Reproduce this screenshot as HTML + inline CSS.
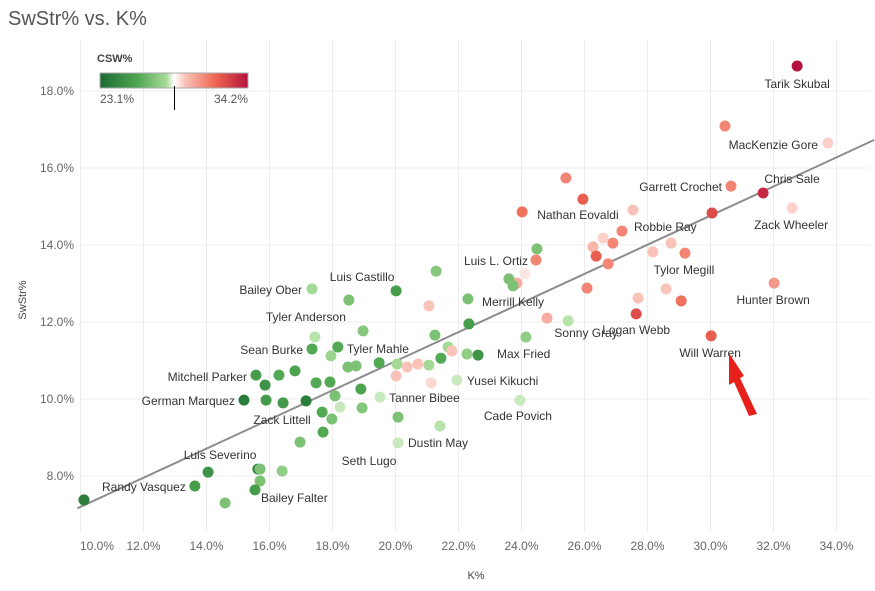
<!DOCTYPE html>
<html><head><meta charset="utf-8"><style>
body{margin:0;background:#fff;font-family:"Liberation Sans",sans-serif;}
svg{display:block}
</style></head><body>
<svg id="c" width="875" height="591">
<defs><linearGradient id="g" x1="0" x2="1" y1="0" y2="0">
<stop offset="0" stop-color="#1c6b34"/><stop offset="0.25" stop-color="#4ea550"/><stop offset="0.45" stop-color="#a8dc98"/><stop offset="0.5" stop-color="#ffffff"/><stop offset="0.58" stop-color="#f9c0b6"/><stop offset="0.78" stop-color="#ee6650"/><stop offset="1" stop-color="#b4123c"/></linearGradient></defs>
<text x="8" y="25" font-size="20" fill="#555">SwStr% vs. K%</text>
<g id="grid"></g><g id="axes"></g><g id="trend"></g><g id="dots"></g><g id="labels"></g>
<g>
<text x="97" y="62" font-size="11" font-weight="bold" fill="#444">CSW%</text>
<rect x="100" y="73" width="148" height="15" fill="url(#g)" stroke="#aaa"/>
<text x="100" y="103" font-size="12" fill="#555">23.1%</text>
<text x="248" y="103" font-size="12" fill="#555" text-anchor="end">34.2%</text>
<line x1="174.5" y1="86" x2="174.5" y2="110" stroke="#000"/>
</g>
<polygon points="729,353 744,376 740,378 757,414 749,416 734,382 729,385" fill="#e8201c"/>
<text x="476" y="579" font-size="11" fill="#444" text-anchor="middle">K%</text>
<text transform="translate(26,300) rotate(-90)" font-size="11" fill="#444" text-anchor="middle">SwStr%</text>
</svg>
<script>
const K=[32.75,30.46,33.73,25.41,25.95,30.65,31.67,24.02,27.54,32.59,30.05,27.19,26.90,26.59,26.27,26.37,28.17,28.75,29.19,26.75,24.49,24.46,24.11,23.86,23.60,23.73,26.08,27.70,28.59,29.07,27.64,32.02,30.02,24.81,25.48,24.14,21.29,20.02,18.52,17.35,21.06,22.30,22.33,18.97,17.44,21.25,17.35,18.17,17.95,18.49,18.75,19.48,20.05,20.37,20.71,21.06,21.44,21.67,21.79,22.27,22.62,20.02,21.13,21.95,17.48,17.92,18.90,18.08,18.24,19.51,18.94,17.16,17.67,17.98,20.08,21.41,23.95,17.70,16.97,20.08,15.57,15.86,16.30,16.81,15.19,15.89,16.43,14.05,15.63,15.70,16.40,15.70,15.54,13.63,14.59,10.11];
const S=[18.65,17.09,16.65,15.74,15.19,15.53,15.35,14.86,14.91,14.96,14.83,14.36,14.05,14.18,13.95,13.71,13.82,14.05,13.79,13.51,13.90,13.61,13.25,13.01,13.12,12.94,12.88,12.62,12.86,12.55,12.21,13.01,11.64,12.10,12.03,11.61,13.32,12.81,12.57,12.86,12.42,12.60,11.95,11.77,11.61,11.66,11.30,11.35,11.12,10.83,10.86,10.94,10.91,10.83,10.91,10.88,11.06,11.35,11.25,11.17,11.14,10.60,10.42,10.49,10.42,10.44,10.26,10.08,9.79,10.05,9.77,9.95,9.66,9.48,9.53,9.30,9.97,9.14,8.88,8.86,10.62,10.36,10.62,10.73,9.97,9.97,9.90,8.10,8.18,8.18,8.13,7.87,7.64,7.74,7.30,7.38];
const CSW=[34.2,31,29.3,31,32,31,33.5,31.5,29.5,29.3,32.5,31,31,29.3,29.8,32,29.5,29.5,31,31,27,31,29,30,27,27,31,29.5,29.5,31.5,32.5,30.5,32,30,28.2,27.5,27.3,25.5,27,28,29.5,27,25.5,27.3,28.2,27,26,26,27.8,27,27,26,28,29.5,29.5,28,26,28,29.5,27.5,25,29.5,29.2,28.3,26,26,25.8,27,28.3,28.3,27.2,24,26,27,27,28.2,28.3,26,27,28.3,25.5,25,26,25.8,24,25.3,25.3,25,24.5,27,27.5,27,25.5,25.5,27,24];
const labelIdx=[0,2,5,6,9,4,11,18,31,32,30,34,21,25,60,63,76,79,79,69,37,39,44,46,47,80,84,86,87,93,92];
const labelText=["Tarik Skubal","MacKenzie Gore","Garrett Crochet","Chris Sale","Zack Wheeler","Nathan Eovaldi","Robbie Ray","Tylor Megill","Hunter Brown","Will Warren","Logan Webb","Sonny Gray","Luis L. Ortiz","Merrill Kelly","Max Fried","Yusei Kikuchi","Cade Povich","Dustin May","Seth Lugo","Tanner Bibee","Luis Castillo","Bailey Ober","Tyler Anderson","Sean Burke","Tyler Mahle","Mitchell Parker","German Marquez","Zack Littell","Luis Severino","Randy Vasquez","Bailey Falter"];
const xTicks=[10,12,14,16,18,20,22,24,26,28,30,32,34];
const yTicks=[8,10,12,14,16,18];
const trendK=[9.9,35.2];
const trendS=[7.16,16.73];
// label layout (anchor, dx, dy) in pixels
const LAY=[["middle",0,22],["end",-10,6],["end",-9,5],["middle",29,-10],["middle",-1,21],["middle",-5,20],["start",12,0],["middle",-1,21],["middle",-1,21],["middle",-1,21],["middle",0,20],["middle",18,16],["end",-8,5],["middle",0,20],["start",19,3],["start",10,5],["middle",-2,20],["start",10,4],["middle",-29,22],["start",9,5],["middle",-34,-10],["end",-10,5],["middle",-9,-16],["end",-9,5],["start",9,6],["end",-9,6],["end",-9,5],["middle",-1,21],["middle",12,-13],["end",-9,5],["start",6,12]];
const NS="http://www.w3.org/2000/svg";
const X0=80,X1=870,Y0=40,Y1=532;
const xs=v=>80.5+(v-10)*31.5;
const ys=v=>91+(18-v)*38.5;
const stops=[[0,[28,107,52]],[0.25,[78,165,80]],[0.45,[168,220,152]],[0.5,[255,255,255]],[0.58,[249,192,182]],[0.78,[238,102,80]],[1,[180,18,60]]];
function col(v){let t=Math.max(0,Math.min(1,(v-23.1)/(34.2-23.1)));for(let i=1;i<stops.length;i++){if(t<=stops[i][0]){const a=stops[i-1],b=stops[i],f=(t-a[0])/(b[0]-a[0]);return 'rgb('+a[1].map((c,j)=>Math.round(c+(b[1][j]-c)*f)).join(',')+')';}}return 'rgb(180,18,60)';}
function mk(tag,attrs,parent){const e=document.createElementNS(NS,tag);for(const k in attrs)e.setAttribute(k,attrs[k]);parent.appendChild(e);return e;}
const grid=document.getElementById('grid'),axes=document.getElementById('axes');
xTicks.forEach(t=>{const l=mk('line',{x1:xs(t),x2:xs(t),y1:Y0,y2:Y1,stroke:'#ececec'},grid);


const tx=mk('text',{x:t===10?X0:xs(t),y:550,'font-size':12,fill:'#666','text-anchor':t===10?'start':'middle'},axes);tx.textContent=t.toFixed(1)+'%';

});
yTicks.forEach(t=>{const l=mk('line',{x1:X0,x2:X1,y1:ys(t),y2:ys(t),stroke:'#ececec'},grid);


const tx=mk('text',{x:74,y:ys(t)+4,'font-size':12,fill:'#666','text-anchor':'end'},axes);tx.textContent=t.toFixed(1)+'%';

});
const tl=mk('line',{x1:xs(trendK[0]),y1:ys(trendS[0]),x2:xs(trendK[1]),y2:ys(trendS[1]),stroke:'#8c8c8c','stroke-width':2},document.getElementById('trend'));


const dots=document.getElementById('dots');
K.forEach((k,i)=>{const c=mk('circle',{cx:xs(k),cy:ys(S[i]),r:5.5,fill:col(CSW[i])},dots);

});
const lg=document.getElementById('labels');
labelIdx.forEach((p,i)=>{const L=LAY[i];const t=mk('text',{x:xs(K[p])+L[1],y:ys(S[p])+L[2],'font-size':12,fill:'#333','text-anchor':L[0]},lg);t.textContent=labelText[i];

});
</script>
</body></html>
